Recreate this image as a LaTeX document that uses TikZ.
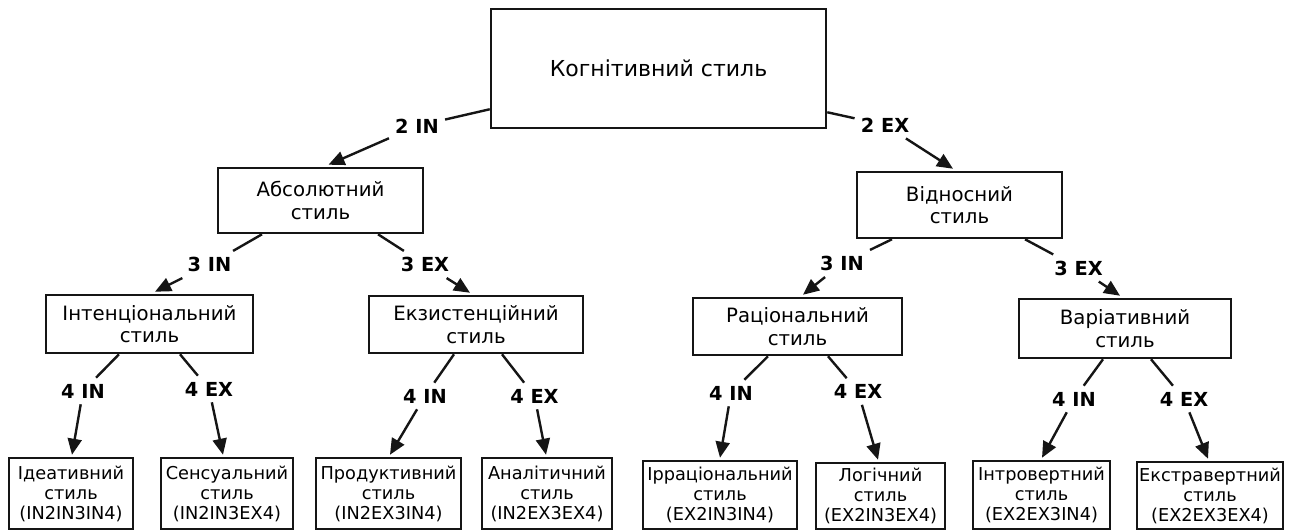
\documentclass[tikz,border=0pt]{standalone}
\usepackage{fontspec}
\setmainfont{DejaVu Sans}
\usepackage{xcolor}
\usepackage{tikz}
\usetikzlibrary{arrows.meta,calc}
\definecolor{inkline}{HTML}{151515}

\begin{document}
\begin{tikzpicture}[x=0.75pt,y=-0.75pt,
  box/.style={draw=inkline,line width=1.9pt,align=center,inner sep=0pt},
  rootbox/.style={box,font=\fontsize{16.5pt}{19pt}\selectfont},
  midbox/.style={box,font=\fontsize{14.8pt}{16.8pt}\selectfont},
  leafbox/.style={box,font=\fontsize{13.3pt}{15pt}\selectfont},
  lbl/.style={font=\fontsize{14.5pt}{16pt}\selectfont\bfseries,inner sep=4.5pt},
  link/.style={draw=inkline,line width=1.8pt},
  arr/.style={link,-{Triangle[length=12pt,width=10.5pt]}}]
  \useasboundingbox (0,0) rectangle (1294,531);
  % top
  \node[rootbox,minimum width=251.25pt,minimum height=89.25pt] (root) at (658.5,68.5) {Когнітивний стиль};
  % second level
  \node[midbox,minimum width=153.75pt,minimum height=48.75pt] (abs) at (320.5,200.5) {Абсолютний\\стиль};
  \node[midbox,minimum width=153.75pt,minimum height=49.5pt] (vidn) at (959.5,205) {Відносний\\стиль};
  % third level
  \node[midbox,minimum width=155.25pt,minimum height=43.5pt] (int) at (149.5,324) {Інтенціональний\\стиль};
  \node[midbox,minimum width=160.5pt,minimum height=42.75pt] (ekz) at (476,324.5) {Екзистенційний\\стиль};
  \node[midbox,minimum width=156.75pt,minimum height=42.75pt] (rac) at (797.5,326.5) {Раціональний\\стиль};
  \node[midbox,minimum width=159pt,minimum height=44.25pt] (var) at (1125,328.5) {Варіативний\\стиль};
  % leaves
  \node[leafbox,minimum width=93pt,minimum height=53.25pt] (ide) at (71,493.5) {Ідеативний\\стиль\\(IN2IN3IN4)};
  \node[leafbox,minimum width=99pt,minimum height=53.25pt] (sens) at (227,493.5) {Сенсуальний\\стиль\\(IN2IN3EX4)};
  \node[leafbox,minimum width=108.75pt,minimum height=53.25pt] (prod) at (388.5,493.5) {Продуктивний\\стиль\\(IN2EX3IN4)};
  \node[leafbox,minimum width=97.5pt,minimum height=53.25pt] (anal) at (547,493.5) {Аналітичний\\стиль\\(IN2EX3EX4)};
  \node[leafbox,minimum width=115.5pt,minimum height=51pt] (irr) at (720,495) {Ірраціональний\\стиль\\(EX2IN3IN4)};
  \node[leafbox,minimum width=96.75pt,minimum height=49.5pt] (log) at (880.5,496) {Логічний\\стиль\\(EX2IN3EX4)};
  \node[leafbox,minimum width=102.75pt,minimum height=51pt] (intr) at (1041.5,495) {Інтровертний\\стиль\\(EX2EX3IN4)};
  \node[leafbox,minimum width=109.5pt,minimum height=50.25pt] (ekstr) at (1210,495.5) {Екстравертний\\стиль\\(EX2EX3EX4)};
  % labels
  \node[lbl] (l2in) at (417,126) {2 IN};
  \node[lbl] (l2ex) at (885,125) {2 EX};
  \node[lbl] (l3ina) at (209.5,264.5) {3 IN};
  \node[lbl] (l3exa) at (425,264.5) {3 EX};
  \node[lbl] (l3inb) at (842,263.5) {3 IN};
  \node[lbl] (l3exb) at (1078.5,268) {3 EX};
  \node[lbl] (l4ina) at (83,391) {4 IN};
  \node[lbl] (l4exa) at (209,389) {4 EX};
  \node[lbl] (l4inb) at (425,396) {4 IN};
  \node[lbl] (l4exb) at (534.5,396) {4 EX};
  \node[lbl] (l4inc) at (731,393) {4 IN};
  \node[lbl] (l4exc) at (858,391.5) {4 EX};
  \node[lbl] (l4ind) at (1074,399) {4 IN};
  \node[lbl] (l4exd) at (1184,399) {4 EX};
  % connectors
  \draw[link] ($(root.south west)+(0,-20)$) -- (l2in);
  \draw[arr] (l2in) -- ($(abs.north)+(8,-2)$);
  \draw[link] ($(root.south east)+(0,-17)$) -- (l2ex);
  \draw[arr] (l2ex) -- ($(vidn.north)+(-6.5,-2)$);
  \foreach \pa/\sx/\lb/\ch/\tx in {abs/-58.5/l3ina/int/5.5,abs/57.5/l3exa/ekz/-6,
      vidn/-67.5/l3inb/rac/5.5,vidn/65.5/l3exb/var/-5,
      int/-30.5/l4ina/ide/1,int/30.5/l4exa/sens/-4,
      ekz/-22/l4inb/prod/1.5,ekz/26/l4exb/anal/-1,
      rac/-29.5/l4inc/irr/0,rac/30.5/l4exc/log/-2.5,
      var/-22/l4ind/intr/0.5,var/26/l4exd/ekstr/-2}{
    \draw[link] ($(\pa.south)+(\sx,0)$) -- (\lb);
    \draw[arr] (\lb) -- ($(\ch.north)+(\tx,-2)$);
  }
\end{tikzpicture}
\end{document}
